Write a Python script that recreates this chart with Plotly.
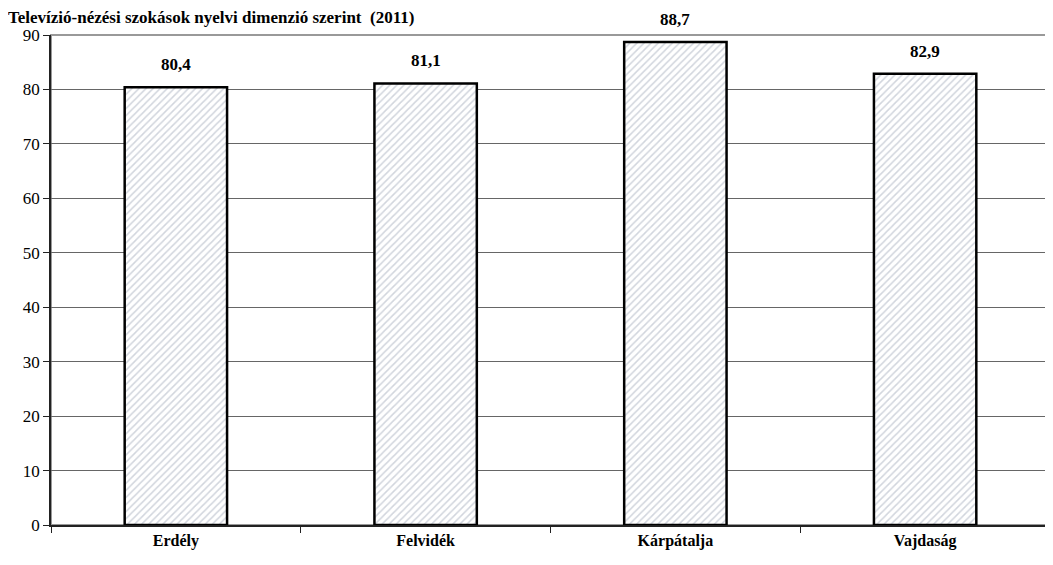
import plotly.graph_objects as go

regions = ["Erdély", "Felvidék", "Kárpátalja", "Vajdaság"]
values = [80.4, 81.1, 88.7, 82.9]
y_ticks = [0, 10, 20, 30, 40, 50, 60, 70, 80, 90]
title = "Televízió-nézési szokások nyelvi dimenzió szerint  (2011)"

font_family = "Times New Roman, Liberation Serif, DejaVu Serif, serif"

fig = go.Figure(go.Bar(
    x=regions, y=values,
    width=0.41,
    marker=dict(color="white",
                line=dict(color="black", width=2.5),
                pattern=dict(shape="/", fgcolor="#a3abbb", bgcolor="white",
                             size=5, solidity=0.3)),
    cliponaxis=False,
))

# value labels sit a bit higher above the bars than plotly's outside text
for region, value in zip(regions, values):
    fig.add_annotation(x=region, y=value, xref="x", yref="y",
                       text="<b>" + f"{value:.1f}".replace(".", ",") + "</b>",
                       showarrow=False, yanchor="bottom", yshift=11,
                       font=dict(size=17, color="black", family=font_family))

# the page has an 8px body margin, so margins are shifted to compensate
fig.update_layout(
    width=1053, height=565,
    margin=dict(l=43, r=11, t=27, b=48),
    plot_bgcolor="white", paper_bgcolor="white",
    showlegend=False,
    font=dict(family=font_family, color="black"),
    title=dict(text="<b>" + title + "</b>", x=0.0, xanchor="left", xref="container",
               y=0.995, yanchor="top", yref="container", pad=dict(t=0, l=0),
               font=dict(size=17, color="black", family=font_family)),
    shapes=[dict(type="rect", xref="paper", yref="paper", x0=0, x1=1, y0=0, y1=1,
                 line=dict(color="#999999", width=2), layer="below")],
)
fig.update_yaxes(range=[0, 90], tickvals=y_ticks, showgrid=True,
                 gridcolor="#666666", gridwidth=1,
                 showline=True, linecolor="#222222", linewidth=1.5,
                 ticks="outside", ticklen=6, tickcolor="#222222",
                 tickfont=dict(size=17, color="black", family=font_family),
                 tickprefix="<b>", ticksuffix="</b>", zeroline=False)
fig.update_xaxes(showline=True, linecolor="#222222", linewidth=1.5,
                 tickson="boundaries", ticks="outside", ticklen=6, tickcolor="#222222",
                 tickfont=dict(size=16, color="black", family=font_family),
                 tickprefix="<b>", ticksuffix="</b>")

fig.write_html("out.html")
